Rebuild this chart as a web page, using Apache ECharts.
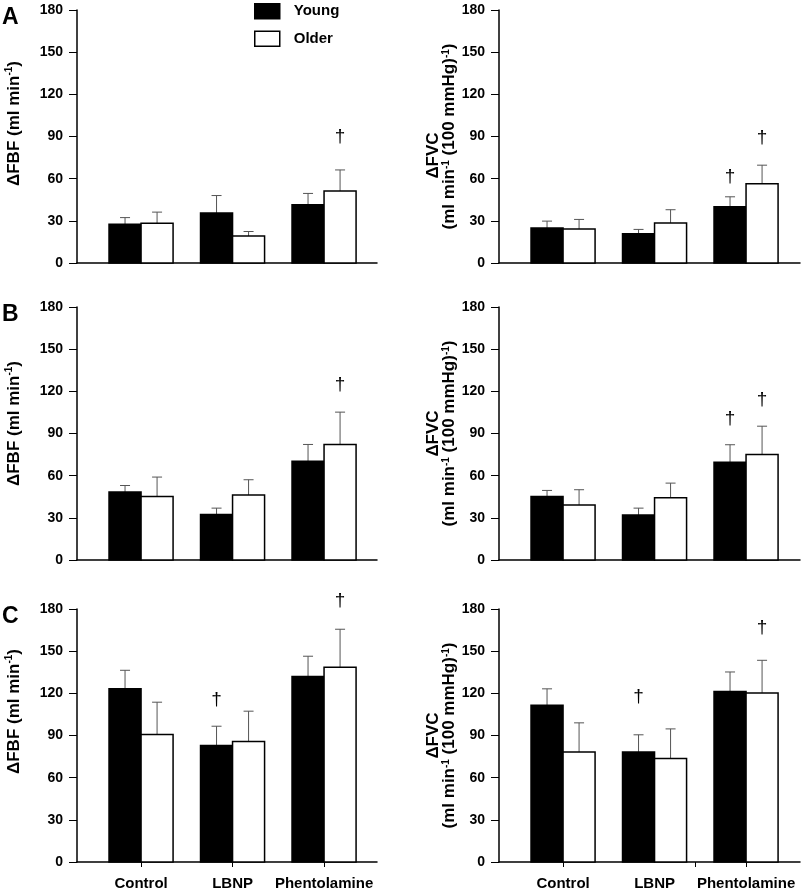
<!DOCTYPE html>
<html>
<head>
<meta charset="utf-8">
<script src="https://cdn.jsdelivr.net/npm/echarts@6/dist/echarts.min.js"></script>
<style>
html,body{margin:0;padding:0;background:#fff;}
#chart{width:801px;height:895px;}
</style>
</head>
<body>
<div id="chart"></div>
<script>
// ---------- data ----------
const categories = ['Control', 'LBNP', 'Phentolamine'];
const seriesNames = ['Young', 'Older'];
const yMin = 0, yMax = 180, yStep = 30;

// Panel A (ΔFBF)
const fbfA_young = [27.5, 35.5, 41.5];
const fbfA_youngErr = [4.8, 12.5, 8.0];
const fbfA_older = [28.2, 19.2, 51.2];
const fbfA_olderErr = [8.0, 3.2, 15.0];
const fbfA_daggers = [['Phentolamine', 'Older', 90]];

// Panel A (ΔFVC)
const fvcA_young = [24.9, 20.8, 40.0];
const fvcA_youngErr = [4.9, 3.1, 7.1];
const fvcA_older = [24.2, 28.4, 56.4];
const fvcA_olderErr = [6.8, 9.5, 13.2];
const fvcA_daggers = [['Phentolamine', 'Young', 61.6], ['Phentolamine', 'Older', 88.8]];

// Panel B (ΔFBF)
const fbfB_young = [48.3, 32.4, 70.3];
const fbfB_youngErr = [4.7, 4.5, 11.9];
const fbfB_older = [45.2, 46.2, 82.2];
const fbfB_olderErr = [13.8, 10.9, 23.0];
const fbfB_daggers = [['Phentolamine', 'Older', 124.8]];

// Panel B (ΔFVC)
const fvcB_young = [45.2, 32.0, 69.6];
const fvcB_youngErr = [4.3, 4.9, 12.4];
const fvcB_older = [39.1, 44.3, 75.1];
const fvcB_olderErr = [10.9, 10.4, 20.1];
const fvcB_daggers = [['Phentolamine', 'Young', 100.4], ['Phentolamine', 'Older', 113.7]];

// Panel C (ΔFBF)
const fbfC_young = [123.2, 82.9, 131.9];
const fbfC_youngErr = [13.2, 13.7, 14.5];
const fbfC_older = [90.7, 85.7, 138.6];
const fbfC_olderErr = [23.0, 21.6, 27.0];
const fbfC_daggers = [['LBNP', 'Young', 115.1], ['Phentolamine', 'Older', 186.2]];

// Panel C (ΔFVC)
const fvcC_young = [111.6, 78.2, 121.3];
const fvcC_youngErr = [11.6, 12.3, 13.9];
const fvcC_older = [78.2, 73.7, 120.3];
const fvcC_olderErr = [20.8, 21.0, 23.2];
const fvcC_daggers = [['LBNP', 'Young', 117.5], ['Phentolamine', 'Older', 166.5]];

// ---------- layout / style ----------
const FONT = '"Liberation Sans", Arial, sans-serif';
const BW = 0.35;          // bar width in category units
const CAP = 5;            // error-bar half cap (px)

const panels = [
  {letter: 'A', kind: 'FBF', young: fbfA_young, yErr: fbfA_youngErr, older: fbfA_older, oErr: fbfA_olderErr, daggers: fbfA_daggers, col: 0, row: 0, shift: 26},
  {letter: '',  kind: 'FVC', young: fvcA_young, yErr: fvcA_youngErr, older: fvcA_older, oErr: fvcA_olderErr, daggers: fvcA_daggers, col: 1, row: 0, shift: 0, firstShift: 38},
  {letter: 'B', kind: 'FBF', young: fbfB_young, yErr: fbfB_youngErr, older: fbfB_older, oErr: fbfB_olderErr, daggers: fbfB_daggers, col: 0, row: 1, shift: 20},
  {letter: '',  kind: 'FVC', young: fvcB_young, yErr: fvcB_youngErr, older: fvcB_older, oErr: fvcB_olderErr, daggers: fvcB_daggers, col: 1, row: 1, shift: 0, firstShift: 0},
  {letter: 'C', kind: 'FBF', young: fbfC_young, yErr: fbfC_youngErr, older: fbfC_older, oErr: fbfC_olderErr, daggers: fbfC_daggers, col: 0, row: 2, shift: 48},
  {letter: '',  kind: 'FVC', young: fvcC_young, yErr: fvcC_youngErr, older: fvcC_older, oErr: fvcC_olderErr, daggers: fvcC_daggers, col: 1, row: 2, shift: 0, firstShift: 0}
];

const rowTops = [10, 307, 609];
const colLefts = [77, 499];
const colWidths = [300, 301];
const gridH = 253;

const grids = [], xAxes = [], yAxes = [], series = [], graphics = [];

function barRenderer(isYoung) {
  return function (params, api) {
    const x = api.value(0), v = api.value(1), e = api.value(2);
    const x0 = isYoung ? x - BW : x;
    const pBase = api.coord([x0, 0]);
    const pTop = api.coord([x0 + BW, v]);
    const pErr = api.coord([x0 + BW / 2, v + e]);
    return {
      type: 'group',
      children: [
        {type: 'line', shape: {x1: pErr[0], y1: pTop[1], x2: pErr[0], y2: pErr[1]}, style: {stroke: '#555', lineWidth: 1}},
        {type: 'line', shape: {x1: pErr[0] - CAP, y1: pErr[1], x2: pErr[0] + CAP, y2: pErr[1]}, style: {stroke: '#555', lineWidth: 1}},
        {type: 'rect', shape: {x: pBase[0], y: pTop[1], width: pTop[0] - pBase[0], height: pBase[1] - pTop[1]},
          style: {fill: isYoung ? '#000' : '#fff', stroke: '#000', lineWidth: 1.5}}
      ]
    };
  };
}

function daggerRenderer(params, api) {
  const p = api.coord([api.value(0), api.value(1)]);
  return {type: 'text', x: p[0], y: p[1],
    style: {text: '\u2020', font: '19px ' + FONT, fill: '#000', align: 'center', verticalAlign: 'middle'}};
}

const supStyle = {fontSize: 10, fontWeight: 'bold', fontFamily: FONT, color: '#000', verticalAlign: 'top', lineHeight: 12};

panels.forEach(function (p, i) {
  const bottom = p.row === 2;
  grids.push({left: colLefts[p.col], top: rowTops[p.row], width: colWidths[p.col], height: gridH, containLabel: false});
  xAxes.push({
    type: 'value', gridIndex: i, min: 0.3, max: 0.3 + colWidths[p.col] / 91.5,
    axisLine: {show: true, onZero: false, lineStyle: {color: '#000', width: 1.5}},
    splitLine: {show: false},
    axisTick: {show: bottom, length: 5, lineStyle: {color: '#000', width: 1},
      customValues: p.col === 0 ? [1, 2, 3] : [1, 2.44, 3]},
    axisLabel: {show: bottom, customValues: [1, 2, 3], margin: 14,
      formatter: function (v) { return categories[Math.round(v) - 1]; },
      fontSize: 15, fontWeight: 'bold', fontFamily: FONT, color: '#000'}
  });
  let name, rich;
  if (p.kind === 'FBF') {
    name = '{f|\u0394FBF (ml min}{s|-1}{b|)}';
    rich = {
      f: {fontSize: 17, fontWeight: 'bold', fontFamily: FONT, color: '#000', lineHeight: 20, padding: [0, 0, 0, p.shift]},
      b: {fontSize: 17, fontWeight: 'bold', fontFamily: FONT, color: '#000', lineHeight: 20},
      s: supStyle
    };
  } else {
    name = '{a|\u0394FVC}\n{b|(ml min}{s|-1}{b| (100 mmHg)}{s|-1}{b|)}';
    rich = {
      a: {fontSize: 17, fontWeight: 'bold', fontFamily: FONT, color: '#000', lineHeight: 16, padding: [0, p.firstShift, 0, 0]},
      b: {fontSize: 17, fontWeight: 'bold', fontFamily: FONT, color: '#000', lineHeight: 16},
      s: supStyle
    };
  }
  yAxes.push({
    type: 'value', gridIndex: i, min: yMin, max: yMax, interval: yStep,
    name: name, nameLocation: 'middle', nameRotate: 90,
    nameGap: p.kind === 'FBF' ? 53 : 38,
    nameTextStyle: {rich: rich},
    axisLine: {show: true, lineStyle: {color: '#000', width: 1.5}},
    axisTick: {show: true, length: 8, lineStyle: {color: '#000', width: 1}},
    splitLine: {show: false},
    axisLabel: {margin: 14, fontSize: 14, fontWeight: 'bold', fontFamily: FONT, color: '#000'}
  });
  series.push({
    type: 'custom', name: 'Young', xAxisIndex: i, yAxisIndex: i,
    itemStyle: {color: '#000', borderColor: '#000', borderWidth: 1.5},
    renderItem: barRenderer(true), encode: {x: 0, y: 1},
    data: p.young.map(function (v, k) { return [k + 1, v, p.yErr[k]]; })
  });
  series.push({
    type: 'custom', name: 'Older', xAxisIndex: i, yAxisIndex: i,
    itemStyle: {color: '#fff', borderColor: '#000', borderWidth: 1.5},
    renderItem: barRenderer(false), encode: {x: 0, y: 1},
    data: p.older.map(function (v, k) { return [k + 1, v, p.oErr[k]]; })
  });
  series.push({
    type: 'custom', xAxisIndex: i, yAxisIndex: i, silent: true,
    renderItem: daggerRenderer, encode: {x: 0, y: 1}, clip: false,
    data: p.daggers.map(function (d) {
      const c = categories.indexOf(d[0]) + 1;
      return [d[1] === 'Young' ? c - BW / 2 : c + BW / 2, d[2]];
    })
  });
  if (p.letter) {
    graphics.push({type: 'text', left: 2, top: rowTops[p.row] - 4,
      style: {text: p.letter, font: 'bold 23px ' + FONT, fill: '#000'}});
  }
});

const chart = echarts.init(document.getElementById('chart'), null, {renderer: 'canvas'});
chart.setOption({
  animation: false,
  backgroundColor: '#fff',
  grid: grids,
  xAxis: xAxes,
  yAxis: yAxes,
  series: series,
  graphic: graphics,
  legend: {
    orient: 'vertical', left: 254, top: 3, padding: 0,
    itemWidth: 25, itemHeight: 15, itemGap: 11, icon: 'rect',
    textStyle: {fontSize: 15, fontWeight: 'bold', fontFamily: FONT, color: '#000', padding: [0, 0, 0, 9]},
    data: [
      {name: seriesNames[0], itemStyle: {color: '#000', borderColor: '#000', borderWidth: 1.5}},
      {name: seriesNames[1], itemStyle: {color: '#fff', borderColor: '#000', borderWidth: 1.5}}
    ]
  }
});
</script>
</body>
</html>
